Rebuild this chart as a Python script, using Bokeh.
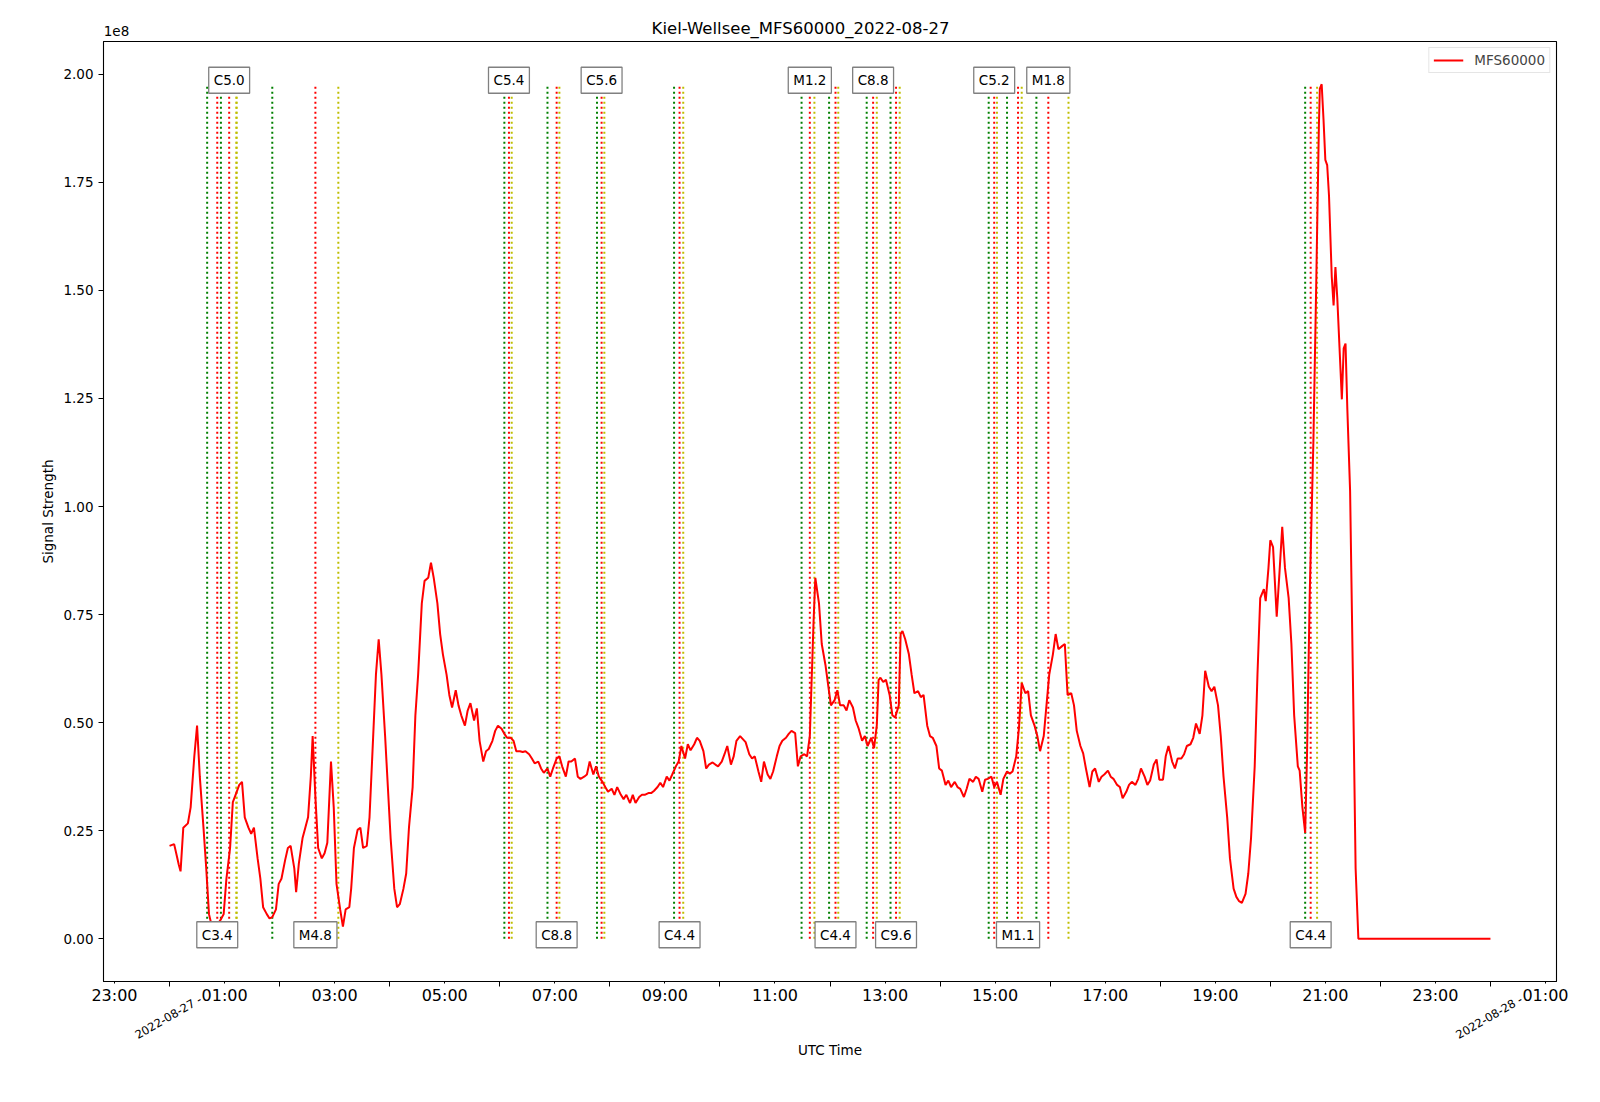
import math
import datetime as dt
from bokeh.plotting import figure
from bokeh.models import (Range1d, FixedTicker, DatetimeTickFormatter, Label,
                          NumeralTickFormatter, LinearAxis)
from bokeh.embed import file_html
from bokeh.resources import INLINE

# ---------------- data ----------------
DAY = "2022-08-27"
STATION = "Kiel-Wellsee"
SERIES = "MFS60000"

# minutes after 2022-08-27 00:00 UTC
minutes = [
    0, 5, 8, 10, 12, 15, 20, 23, 27, 30,
    33, 37, 40, 43, 47, 49, 52, 56, 59, 62,
    66, 69, 72, 76, 79, 82, 86, 89, 92, 96,
    99, 102, 106, 109, 112, 116, 119, 122, 126, 129,
    132, 136, 138, 141, 145, 148, 151, 154, 156, 159,
    162, 166, 169, 172, 176, 179, 182, 186, 189, 192,
    196, 198, 201, 205, 208, 211, 215, 218, 221, 225,
    228, 231, 235, 238, 241, 245, 248, 251, 255, 258,
    261, 265, 268, 271, 275, 278, 282, 285, 288, 292,
    295, 298, 302, 305, 308, 312, 315, 318, 322, 325,
    328, 332, 335, 338, 342, 345, 348, 352, 355, 358,
    362, 365, 368, 372, 375, 378, 382, 385, 388, 392,
    395, 398, 402, 405, 408, 412, 415, 418, 422, 425,
    428, 432, 435, 438, 442, 445, 448, 452, 455, 458,
    462, 465, 468, 472, 475, 478, 482, 485, 488, 492,
    495, 498, 502, 505, 508, 512, 515, 518, 522, 525,
    528, 532, 535, 538, 542, 545, 548, 552, 555, 558,
    562, 565, 568, 572, 575, 578, 582, 585, 588, 592,
    595, 598, 602, 605, 608, 612, 615, 618, 622, 625,
    628, 632, 635, 638, 642, 645, 648, 652, 655, 658,
    662, 665, 668, 672, 675, 678, 682, 685, 688, 692,
    695, 698, 702, 704, 708, 711, 715, 718, 721, 725,
    728, 731, 735, 738, 741, 745, 748, 751, 755, 758,
    761, 765, 768, 771, 773, 775, 778, 781, 785, 788,
    791, 795, 797, 799, 802, 806, 809, 812, 816, 819,
    822, 826, 829, 832, 836, 839, 842, 846, 849, 852,
    856, 859, 862, 866, 869, 872, 876, 879, 882, 886,
    889, 892, 896, 899, 902, 906, 909, 913, 916, 919,
    923, 926, 929, 933, 936, 939, 943, 946, 949, 953,
    956, 959, 963, 966, 969, 973, 976, 979, 983, 986,
    989, 993, 996, 999, 1003, 1006, 1009, 1013, 1016, 1019,
    1023, 1026, 1029, 1033, 1036, 1039, 1043, 1046, 1049, 1053,
    1056, 1059, 1063, 1066, 1069, 1073, 1076, 1079, 1083, 1086,
    1089, 1093, 1096, 1099, 1103, 1106, 1109, 1113, 1116, 1119,
    1123, 1126, 1129, 1133, 1136, 1139, 1143, 1146, 1149, 1153,
    1156, 1160, 1163, 1166, 1169, 1173, 1176, 1179, 1183, 1186,
    1189, 1193, 1195, 1198, 1200, 1203, 1207, 1210, 1213, 1216,
    1220, 1223, 1226, 1230, 1232, 1235, 1238, 1240, 1243, 1247,
    1250, 1253, 1254, 1256, 1258, 1260, 1262, 1264, 1267, 1269,
    1271, 1273, 1276, 1278, 1280, 1282, 1284, 1287, 1289, 1291,
    1293, 1296, 1320, 1360, 1400, 1440,
]

# signal strength in units of 1e8
signal_1e8 = [
    0.215, 0.219, 0.191, 0.172, 0.156, 0.257, 0.267, 0.304, 0.422, 0.493,
    0.375, 0.257, 0.163, 0.057, 0.021, 0.026, 0.033, 0.045, 0.057, 0.139,
    0.210, 0.316, 0.333, 0.356, 0.363, 0.281, 0.257, 0.243, 0.257, 0.186,
    0.139, 0.073, 0.057, 0.047, 0.050, 0.068, 0.127, 0.139, 0.182, 0.210,
    0.215, 0.163, 0.108, 0.175, 0.233, 0.257, 0.281, 0.375, 0.469, 0.328,
    0.210, 0.186, 0.198, 0.222, 0.410, 0.304, 0.127, 0.068, 0.028, 0.068,
    0.073, 0.116, 0.210, 0.252, 0.257, 0.210, 0.215, 0.281, 0.422, 0.611,
    0.693, 0.611, 0.469, 0.351, 0.233, 0.116, 0.073, 0.080, 0.116, 0.151,
    0.257, 0.351, 0.517, 0.611, 0.776, 0.828, 0.835, 0.870, 0.835, 0.776,
    0.705, 0.658, 0.611, 0.564, 0.535, 0.575, 0.540, 0.517, 0.493, 0.528,
    0.545, 0.505, 0.533, 0.458, 0.410, 0.434, 0.439, 0.458, 0.481, 0.493,
    0.486, 0.474, 0.465, 0.465, 0.458, 0.434, 0.434, 0.432, 0.434, 0.427,
    0.417, 0.406, 0.410, 0.394, 0.384, 0.394, 0.375, 0.394, 0.417, 0.422,
    0.399, 0.375, 0.410, 0.410, 0.417, 0.375, 0.370, 0.375, 0.380, 0.410,
    0.380, 0.399, 0.375, 0.363, 0.351, 0.340, 0.347, 0.333, 0.351, 0.333,
    0.323, 0.333, 0.314, 0.333, 0.314, 0.328, 0.333, 0.333, 0.337, 0.337,
    0.342, 0.351, 0.361, 0.351, 0.375, 0.366, 0.380, 0.399, 0.410, 0.446,
    0.417, 0.450, 0.436, 0.450, 0.465, 0.458, 0.434, 0.394, 0.403, 0.408,
    0.403, 0.399, 0.410, 0.427, 0.446, 0.403, 0.422, 0.458, 0.469, 0.462,
    0.455, 0.427, 0.417, 0.422, 0.387, 0.363, 0.410, 0.380, 0.370, 0.387,
    0.422, 0.446, 0.458, 0.465, 0.474, 0.481, 0.476, 0.399, 0.422, 0.427,
    0.422, 0.469, 0.729, 0.835, 0.776, 0.682, 0.634, 0.587, 0.540, 0.552,
    0.575, 0.540, 0.540, 0.528, 0.552, 0.535, 0.505, 0.488, 0.458, 0.469,
    0.446, 0.465, 0.441, 0.493, 0.599, 0.604, 0.594, 0.599, 0.564, 0.517,
    0.512, 0.540, 0.705, 0.712, 0.693, 0.658, 0.611, 0.568, 0.573, 0.559,
    0.564, 0.493, 0.469, 0.465, 0.446, 0.394, 0.389, 0.356, 0.366, 0.351,
    0.363, 0.351, 0.347, 0.328, 0.347, 0.370, 0.363, 0.375, 0.370, 0.340,
    0.368, 0.370, 0.375, 0.351, 0.363, 0.333, 0.370, 0.387, 0.382, 0.387,
    0.422, 0.488, 0.592, 0.568, 0.573, 0.517, 0.493, 0.469, 0.434, 0.469,
    0.540, 0.611, 0.658, 0.705, 0.670, 0.677, 0.682, 0.564, 0.568, 0.540,
    0.481, 0.446, 0.429, 0.394, 0.351, 0.387, 0.394, 0.363, 0.375, 0.380,
    0.389, 0.375, 0.370, 0.356, 0.351, 0.325, 0.340, 0.356, 0.363, 0.356,
    0.370, 0.394, 0.375, 0.356, 0.366, 0.403, 0.415, 0.368, 0.368, 0.422,
    0.446, 0.410, 0.394, 0.417, 0.417, 0.427, 0.446, 0.450, 0.465, 0.498,
    0.474, 0.517, 0.620, 0.583, 0.573, 0.583, 0.540, 0.469, 0.375, 0.281,
    0.186, 0.116, 0.097, 0.087, 0.083, 0.104, 0.151, 0.233, 0.399, 0.611,
    0.788, 0.809, 0.781, 0.858, 0.922, 0.906, 0.745, 0.847, 0.953, 0.858,
    0.788, 0.682, 0.517, 0.399, 0.389, 0.304, 0.245, 0.422, 0.800, 1.153,
    1.507, 1.884, 1.967, 1.977, 1.896, 1.802, 1.790, 1.719, 1.531, 1.465,
    1.554, 1.483, 1.342, 1.248, 1.366, 1.377, 1.224, 1.035, 0.752, 0.469,
    0.163, 0.0, 0.0, 0.0, 0.0, 0.0,
]

# solar flares (GOES class) with start / peak / end times (UTC, HH:MM)
flare_class = ["C3.4", "C5.0", "M4.8", "C5.4", "C8.8", "C5.6", "C4.4", "M1.2",
               "C4.4", "C8.8", "C9.6", "C5.2", "M1.1", "M1.8", "C4.4"]
flare_start = ["00:41", "00:56", "01:52", "06:05", "06:52", "07:46", "09:10", "11:29",
               "11:59", "12:40", "13:06", "14:53", "15:13", "15:45", "20:38"]
flare_peak = ["00:52", "01:05", "02:39", "06:10", "07:02", "07:51", "09:16", "11:38",
              "12:06", "12:47", "13:12", "14:59", "15:25", "15:58", "20:44"]
flare_end = ["01:13", "01:13", "03:04", "06:13", "07:05", "07:54", "09:20", "11:43",
             "12:09", "12:51", "13:16", "15:02", "15:29", "16:20", "20:51"]

# ---------------- helpers ----------------
EPOCH = dt.datetime(1970, 1, 1)
DAY0 = dt.datetime(2022, 8, 27)
FONT = "DejaVu Sans"
FRAME_W, FRAME_H = 1453, 940
BORDER_L, BORDER_T = 103, 41


def ms(d):
    return (d - EPOCH).total_seconds() * 1000.0


def hhmm(s):
    h, m = s.split(":")
    return ms(DAY0 + dt.timedelta(hours=int(h), minutes=int(m)))


x = [ms(DAY0 + dt.timedelta(minutes=m)) for m in minutes]
y = signal_1e8

x0, x1 = min(x), max(x)
xpad = 0.05 * (x1 - x0)
y0, y1 = 0.0, max(y)
ypad = 0.05 * (y1 - y0)
xs_, xe_ = x0 - xpad, x1 + xpad
ys_, ye_ = y0 - ypad, y1 + ypad
ms_per_px = (xe_ - xs_) / FRAME_W

p = figure(
    x_axis_type="datetime",
    output_backend="svg",
    toolbar_location=None,
    frame_width=FRAME_W, frame_height=FRAME_H,
    min_border_left=BORDER_L, min_border_right=40, min_border_top=BORDER_T, min_border_bottom=108,
    x_range=Range1d(xs_, xe_),
    y_range=Range1d(ys_, ye_),
    background_fill_color="white", border_fill_color="white",
)
p.grid.visible = False
p.outline_line_color = "black"
p.outline_line_width = 1.1

# ---- main axes ----
hour = 3600 * 1000.0
major = [ms(DAY0) + h * hour for h in range(-1, 26, 2)]
minor = [ms(DAY0) + h * hour for h in range(-2, 27, 2)]
p.xaxis.ticker = FixedTicker(ticks=major, minor_ticks=minor)
p.xaxis.formatter = DatetimeTickFormatter(
    milliseconds="%H:%M", seconds="%H:%M", minsec="%H:%M", minutes="%H:%M",
    hourmin="%H:%M", hours="%H:%M", days="%H:%M", months="%H:%M", years="%H:%M")
p.xaxis.major_label_text_font = FONT
p.xaxis.major_label_text_font_size = "16px"
p.xaxis.major_tick_out = 2
p.xaxis.major_tick_in = 0
p.xaxis.minor_tick_out = 5
p.xaxis.minor_tick_in = 0
p.xaxis.major_label_standoff = -1

p.yaxis.ticker = FixedTicker(ticks=[0.0, 0.25, 0.5, 0.75, 1.0, 1.25, 1.5, 1.75, 2.0])
p.yaxis.formatter = NumeralTickFormatter(format="0.00")
p.yaxis.major_label_text_font = FONT
p.yaxis.major_label_text_font_size = "13.5px"
p.yaxis.major_tick_out = 5
p.yaxis.major_tick_in = 0
p.yaxis.minor_tick_out = 0
p.yaxis.minor_tick_in = 0
p.yaxis.major_label_standoff = 5
p.yaxis.axis_label = "Signal Strength"
p.yaxis.axis_label_standoff = 4

for ax in (p.xaxis, p.yaxis):
    ax.axis_label_text_font = FONT
    ax.axis_label_text_font_size = "13.5px"
    ax.axis_label_text_font_style = "normal"
    ax.axis_label_text_color = "black"
    ax.major_label_text_color = "black"
    ax.axis_line_color = "black"
    ax.major_tick_line_color = "black"
    ax.minor_tick_line_color = "black"


def text_axis(side, ticks, texts, size, standoff, orientation="horizontal"):
    ax = LinearAxis(
        ticker=FixedTicker(ticks=ticks, minor_ticks=[]),
        major_label_overrides={t: s for t, s in zip(ticks, texts)},
        axis_line_color=None, major_tick_line_color=None, minor_tick_line_color=None,
        major_tick_out=0, major_tick_in=0, minor_tick_out=0, minor_tick_in=0,
        major_label_standoff=standoff, major_label_orientation=orientation,
        major_label_text_font=FONT, major_label_text_font_size=size,
        major_label_text_color="black",
    )
    p.add_layout(ax, side)
    return ax


# date labels under the time axis (rotated 30 deg, centred on midnight),
# followed by the axis title
days = [DAY0, DAY0 + dt.timedelta(days=1)]
shift = 31 * ms_per_px
date_ax = text_axis("below", [round(ms(d) + shift) for d in days],
                    [d.strftime("%Y-%m-%d") + " -" for d in days], "11.5px", -9,
                    orientation=math.pi / 6)
date_ax.axis_label = "UTC Time"
date_ax.axis_label_standoff = -9
date_ax.axis_label_text_font = FONT
date_ax.axis_label_text_font_size = "13.5px"
date_ax.axis_label_text_font_style = "normal"
date_ax.axis_label_text_color = "black"

# offset text "1e8" above the top-left corner, then the figure title on the same row
text_axis("above", [round(xs_ + 13 * ms_per_px)], ["1e8"], "13.5px", 6)
text_axis("above", [round(xs_ + (800 - BORDER_L) * ms_per_px)],
          [f"{STATION}_{SERIES}_{DAY}"], "16.5px", -15)

# ---- flare lines ----
starts = [hhmm(s) for s in flare_start]
peaks = [hhmm(s) for s in flare_peak]
ends = [hhmm(s) for s in flare_end]
for xs, col in ((starts, "#008000"), (peaks, "#ff0000"), (ends, "#bfbf00")):
    p.segment(x0=xs, y0=[0.0] * len(xs), x1=xs, y1=[y1] * len(xs),
              line_color=col, line_width=2, line_dash="2 3")

# ---- signal curve ----
p.line(x, y, line_color="#ff0000", line_width=2, legend_label=SERIES)

# ---- flare class labels (alternating bottom / top) ----
for i, (cls, pk) in enumerate(zip(flare_class, peaks)):
    p.add_layout(Label(
        x=pk, y=(y0 if i % 2 == 0 else y1), y_offset=4,
        text=cls, text_font=FONT, text_font_size="13.5px", text_color="black",
        text_align="center", text_baseline="middle",
        background_fill_color="white", background_fill_alpha=1.0,
        border_line_color="#808080", border_line_width=1.3, padding=5,
    ))

# ---- legend ----
p.legend.location = "top_right"
p.legend.margin = 6
p.legend.padding = 4
p.legend.label_text_font = FONT
p.legend.label_text_font_size = "13.5px"
p.legend.glyph_width = 30
p.legend.glyph_height = 16
p.legend.label_height = 16
p.legend.label_standoff = 11
p.legend.border_line_color = "#cccccc"
p.legend.border_line_width = 1
p.legend.background_fill_alpha = 0.8

open("out.html", "w").write(file_html(p, INLINE))
